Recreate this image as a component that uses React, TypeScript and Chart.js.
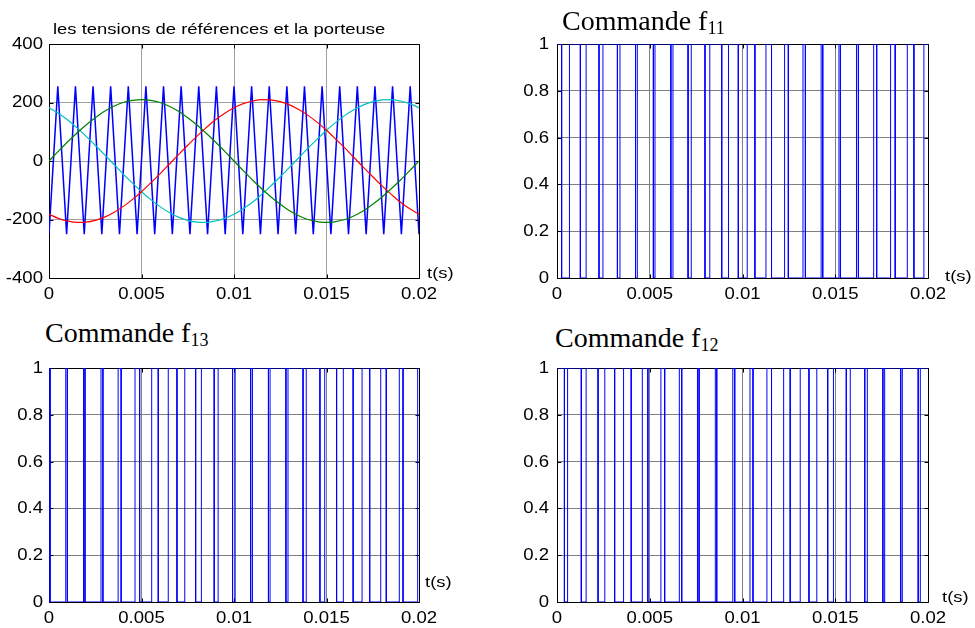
import React, { useEffect, useRef } from 'react';
import { Chart, registerables } from 'chart.js';
Chart.register(...registerables);

// ---------- data ----------
const timeRef = [0, 0.0005, 0.001, 0.0015, 0.002, 0.0025, 0.003, 0.0035, 0.004, 0.0045, 0.005, 0.0055, 0.006, 0.0065, 0.007, 0.0075, 0.008, 0.0085, 0.009, 0.0095, 0.01, 0.0105, 0.011, 0.0115, 0.012, 0.0125, 0.013, 0.0135, 0.014, 0.0145, 0.015, 0.0155, 0.016, 0.0165, 0.017, 0.0175, 0.018, 0.0185, 0.019, 0.0195, 0.02];
const vGreen = [0, 33, 65, 95, 123, 148, 170, 187, 200, 207, 210, 207, 200, 187, 170, 148, 123, 95, 65, 33, 0, -33, -65, -95, -123, -148, -170, -187, -200, -207, -210, -207, -200, -187, -170, -148, -123, -95, -65, -33, 0];
const vRed = [-182, -196, -205, -210, -209, -203, -192, -176, -156, -132, -105, -75, -44, -11, 22, 54, 85, 114, 141, 163, 182, 196, 205, 210, 209, 203, 192, 176, 156, 132, 105, 75, 44, 11, -22, -54, -85, -114, -141, -163, -182];
const vCyan = [182, 163, 141, 114, 85, 54, 22, -11, -44, -75, -105, -132, -156, -176, -192, -203, -209, -210, -205, -196, -182, -163, -141, -114, -85, -54, -22, 11, 44, 75, 105, 132, 156, 176, 192, 203, 209, 210, 205, 196, 182];

const carrierTimes = [0, 0.000476, 0.000952, 0.001429, 0.001905, 0.002381, 0.002857, 0.003333, 0.00381, 0.004286, 0.004762, 0.005238, 0.005714, 0.00619, 0.006667, 0.007143, 0.007619, 0.008095, 0.008571, 0.009048, 0.009524, 0.01, 0.010476, 0.010952, 0.011429, 0.011905, 0.012381, 0.012857, 0.013333, 0.01381, 0.014286, 0.014762, 0.015238, 0.015714, 0.01619, 0.016667, 0.017143, 0.017619, 0.018095, 0.018571, 0.019048, 0.019524, 0.02];
const carrierValues = [-250, 255, -250, 255, -250, 255, -250, 255, -250, 255, -250, 255, -250, 255, -250, 255, -250, 255, -250, 255, -250, 255, -250, 255, -250, 255, -250, 255, -250, 255, -250, 255, -250, 255, -250, 255, -250, 255, -250, 255, -250, 255, -250];

// switching instants (signal starts at 1 and toggles at each instant)
const f11Switch = [0.00025, 0.000672, 0.00126, 0.00157, 0.002264, 0.002476, 0.003257, 0.003395, 0.004234, 0.00433, 0.005196, 0.005283, 0.006139, 0.006252, 0.007066, 0.007238, 0.007978, 0.008237, 0.00888, 0.009244, 0.009774, 0.010255, 0.010668, 0.011265, 0.011565, 0.012269, 0.012471, 0.013261, 0.01339, 0.014239, 0.014326, 0.0152, 0.015278, 0.016144, 0.016248, 0.017071, 0.017233, 0.017983, 0.018232, 0.018884, 0.01924, 0.019779];
const f13Switch = [0.000057, 0.000906, 0.000992, 0.001867, 0.001945, 0.00281, 0.002914, 0.003738, 0.0039, 0.00465, 0.004899, 0.005551, 0.005906, 0.006446, 0.006917, 0.007339, 0.007927, 0.008237, 0.00893, 0.009143, 0.009923, 0.010062, 0.010901, 0.010997, 0.011862, 0.01195, 0.012806, 0.012919, 0.013733, 0.013905, 0.014645, 0.014903, 0.015546, 0.01591, 0.016441, 0.016922, 0.017335, 0.017932, 0.018232, 0.018935, 0.019138, 0.019928];
const f12Switch = [0.0004, 0.000571, 0.001311, 0.00157, 0.002213, 0.002577, 0.003108, 0.003589, 0.004001, 0.004599, 0.004899, 0.005602, 0.005805, 0.006595, 0.006724, 0.007572, 0.007659, 0.008534, 0.008611, 0.009477, 0.009581, 0.010404, 0.010567, 0.011316, 0.011565, 0.012218, 0.012573, 0.013112, 0.013584, 0.014006, 0.014594, 0.014903, 0.015597, 0.01581, 0.01659, 0.016729, 0.017568, 0.017664, 0.018529, 0.018616, 0.019472, 0.019586];

const xTicks = [0, 0.005, 0.01, 0.015, 0.02];
const xTickLabels = ['0', '0.005', '0.01', '0.015', '0.02'];
const yTicksRef = [-400, -200, 0, 200, 400];
const yTickLabelsRef = ['-400', '-200', '0', '200', '400'];
const yTicksCmd = [0, 0.2, 0.4, 0.6, 0.8, 1];
const yTickLabelsCmd = ['0', '0.2', '0.4', '0.6', '0.8', '1'];

// ---------- helpers ----------
const SANS = '"Liberation Sans", Arial, sans-serif';
const SERIF = '"Liberation Serif", "Times New Roman", serif';
const STRETCH = 1.23;
const TICK_STRETCH = 1.16;
const AX_W = 48, PAD_T = 10, PAD_R = 30, AX_H = 30;

function pwmPoints(sw: number[]) {
  const pts: { x: number; y: number }[] = [{ x: 0, y: 1 }];
  let lv = 1;
  for (const t of sw) {
    pts.push({ x: t, y: lv });
    lv = 1 - lv;
    pts.push({ x: t, y: lv });
  }
  pts.push({ x: 0.02, y: lv });
  return pts;
}

function drawText(ctx: CanvasRenderingContext2D, text: string, x: number, y: number, align: CanvasTextAlign, base: CanvasTextBaseline) {
  ctx.save();
  ctx.translate(x, y);
  ctx.scale(TICK_STRETCH, 1);
  ctx.textAlign = align;
  ctx.textBaseline = base;
  ctx.fillText(text, 0, 0);
  ctx.restore();
}

const matlabAxes = {
  id: 'matlabAxes',
  beforeDatasetsDraw(chart: any, _a: any, opts: any) {
    const { ctx, chartArea: a } = chart;
    const xs = chart.scales.x, ys = chart.scales.y;
    const L = Math.round(a.left) + 0.5, R = Math.round(a.right) + 0.5;
    const T = Math.round(a.top) + 0.5, B = Math.round(a.bottom) + 0.5;
    ctx.save();
    ctx.strokeStyle = '#000';
    ctx.lineWidth = 1;
    ctx.beginPath();
    ctx.rect(L, T, R - L, B - T);
    opts.xTicks.forEach((v: number) => {
      const p = Math.round(xs.getPixelForValue(v)) + 0.5;
      ctx.moveTo(p, B); ctx.lineTo(p, B - 4);
      ctx.moveTo(p, T); ctx.lineTo(p, T + 4);
    });
    opts.yTicks.forEach((v: number) => {
      const p = Math.round(ys.getPixelForValue(v)) + 0.5;
      ctx.moveTo(L, p); ctx.lineTo(L + 4, p);
      ctx.moveTo(R, p); ctx.lineTo(R - 4, p);
    });
    ctx.stroke();
    ctx.restore();
  },
  afterDraw(chart: any, _a: any, opts: any) {
    const { ctx, chartArea: a } = chart;
    const xs = chart.scales.x, ys = chart.scales.y;
    ctx.save();
    ctx.fillStyle = '#000';
    ctx.font = '16px ' + SANS;
    opts.xTicks.forEach((v: number, i: number) => {
      drawText(ctx, opts.xLabels[i], xs.getPixelForValue(v), a.bottom + 21, 'center', 'alphabetic');
    });
    opts.yTicks.forEach((v: number, i: number) => {
      drawText(ctx, opts.yLabels[i], a.left - opts.gap, ys.getPixelForValue(v) + 0.5, 'right', 'middle');
    });
    ctx.restore();
  },
};

type Spec = {
  left: number; top: number; w: number; h: number;
  yMin: number; yMax: number; yTicks: number[]; yLabels: string[];
  grid: string; gap: number; datasets: any[];
};

function Panel({ spec }: { spec: Spec }) {
  const ref = useRef<HTMLCanvasElement>(null);
  const cw = spec.w + AX_W + PAD_R;
  const ch = spec.h + PAD_T + AX_H;
  useEffect(() => {
    if (!ref.current) return;
    const chart = new Chart(ref.current, {
      type: 'line',
      data: { datasets: spec.datasets },
      plugins: [matlabAxes as any],
      options: {
        animation: false,
        responsive: false,
        maintainAspectRatio: false,
        events: [],
        layout: { padding: { top: PAD_T, right: PAD_R, left: 0, bottom: 0 } },
        elements: { point: { radius: 0 } },
        plugins: {
          legend: { display: false },
          tooltip: { enabled: false },
          title: { display: false },
          matlabAxes: { xTicks, xLabels: xTickLabels, yTicks: spec.yTicks, yLabels: spec.yLabels, gap: spec.gap },
        } as any,
        scales: {
          x: {
            type: 'linear', min: 0, max: 0.02,
            afterBuildTicks: (s: any) => { s.ticks = xTicks.map((v) => ({ value: v })); },
            afterFit: (s: any) => { s.height = AX_H; },
            ticks: { display: false },
            grid: { color: spec.grid, lineWidth: 1, drawTicks: false },
            border: { display: false },
          },
          y: {
            type: 'linear', min: spec.yMin, max: spec.yMax,
            afterBuildTicks: (s: any) => { s.ticks = spec.yTicks.map((v) => ({ value: v })); },
            afterFit: (s: any) => { s.width = AX_W; },
            ticks: { display: false },
            grid: { color: spec.grid, lineWidth: 1, drawTicks: false },
            border: { display: false },
          },
        } as any,
      },
    });
    return () => chart.destroy();
  }, []);
  return (
    <canvas
      ref={ref}
      width={cw}
      height={ch}
      style={{ position: 'absolute', left: spec.left - AX_W, top: spec.top - PAD_T, width: cw, height: ch }}
    />
  );
}

const pwmDs = (sw: number[]) => ({
  data: pwmPoints(sw), borderColor: '#0000ff', borderWidth: 1, pointRadius: 0, fill: false, tension: 0,
});

const refDatasets = [
  { data: timeRef.map((t, i) => ({ x: t, y: vGreen[i] })), borderColor: '#008000', borderWidth: 1.2, cubicInterpolationMode: 'monotone', pointRadius: 0 },
  { data: timeRef.map((t, i) => ({ x: t, y: vRed[i] })), borderColor: '#ff0000', borderWidth: 1.2, cubicInterpolationMode: 'monotone', pointRadius: 0 },
  { data: timeRef.map((t, i) => ({ x: t, y: vCyan[i] })), borderColor: '#00bfbf', borderWidth: 1.2, cubicInterpolationMode: 'monotone', pointRadius: 0 },
  { data: carrierTimes.map((t, i) => ({ x: t, y: carrierValues[i] })), borderColor: '#0000ff', borderWidth: 1.5, tension: 0, pointRadius: 0 },
];

const specs: Spec[] = [
  { left: 49, top: 44, w: 370, h: 234, yMin: -400, yMax: 400, yTicks: yTicksRef, yLabels: yTickLabelsRef, grid: '#a0a0a0', gap: 6, datasets: refDatasets },
  { left: 557, top: 44, w: 371, h: 234, yMin: 0, yMax: 1, yTicks: yTicksCmd, yLabels: yTickLabelsCmd, grid: '#808080', gap: 8, datasets: [pwmDs(f11Switch)] },
  { left: 49, top: 368, w: 370, h: 234, yMin: 0, yMax: 1, yTicks: yTicksCmd, yLabels: yTickLabelsCmd, grid: '#808080', gap: 6, datasets: [pwmDs(f13Switch)] },
  { left: 557, top: 368, w: 371, h: 234, yMin: 0, yMax: 1, yTicks: yTicksCmd, yLabels: yTickLabelsCmd, grid: '#808080', gap: 8, datasets: [pwmDs(f12Switch)] },
];

const sansLabel = (left: number, top: number, text: string) => (
  <div style={{ position: 'absolute', left, top, font: '15px ' + SANS, lineHeight: '15px', whiteSpace: 'nowrap', transform: `scaleX(${STRETCH})`, transformOrigin: 'left top', color: '#000' }}>{text}</div>
);

const cmdTitle = (left: number, top: number, sub: string) => (
  <div style={{ position: 'absolute', left, top, font: '28px ' + SERIF, lineHeight: '28px', whiteSpace: 'nowrap', color: '#000' }}>
    Commande f<span style={{ fontSize: 18, position: 'relative', top: 4 }}>{sub}</span>
  </div>
);

export default function App() {
  return (
    <div style={{ position: 'absolute', left: 0, top: 0, width: 975, height: 628, background: '#fff', overflow: 'hidden' }}>
      {specs.map((s, i) => <Panel key={i} spec={s} />)}
      {sansLabel(53, 21, 'les tensions de références et la porteuse')}
      {cmdTitle(562, 7, '11')}
      {cmdTitle(45, 319, '13')}
      {cmdTitle(555, 324, '12')}
      {sansLabel(427, 265, 't(s)')}
      {sansLabel(945, 268, 't(s)')}
      {sansLabel(425, 574, 't(s)')}
      {sansLabel(942, 589, 't(s)')}
    </div>
  );
}
